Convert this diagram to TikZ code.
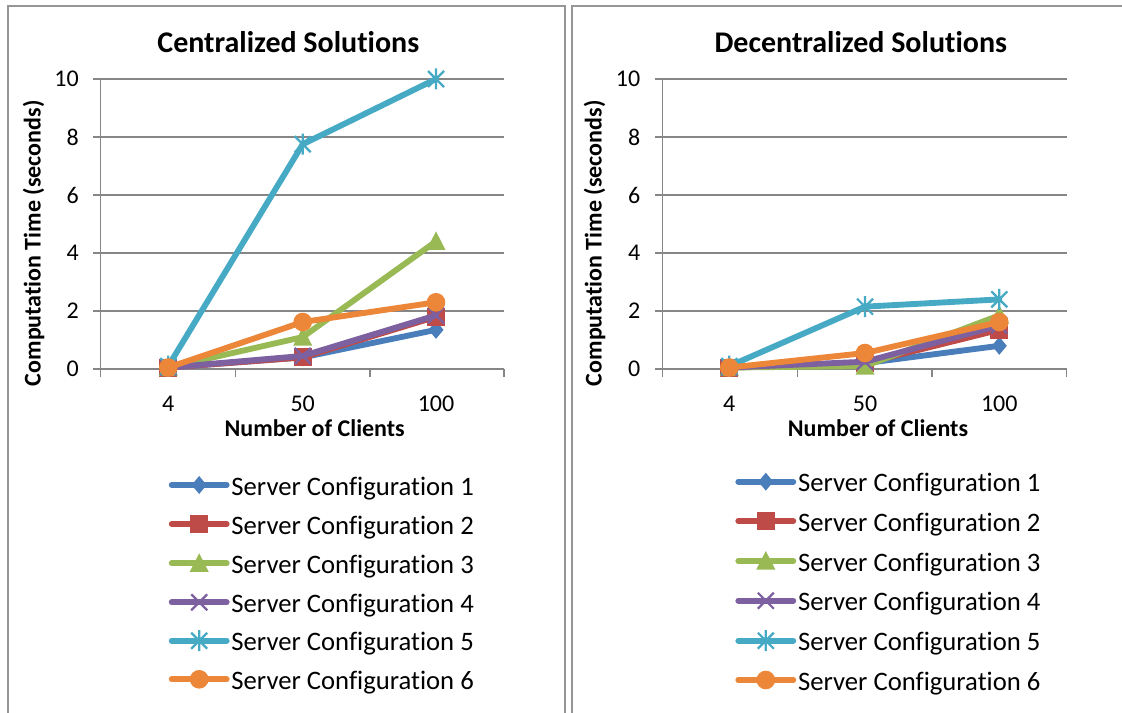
\documentclass[tikz,border=0pt]{standalone}
\usepackage{fontspec}
\setmainfont{Carlito}[Ligatures={NoCommon}]
\definecolor{c1}{RGB}{74,126,187}
\definecolor{c2}{RGB}{190,75,72}
\definecolor{c3}{RGB}{152,185,84}
\definecolor{c4}{RGB}{125,96,160}
\definecolor{c5}{RGB}{70,170,197}
\definecolor{c6}{RGB}{236,135,58}
\definecolor{gridgray}{RGB}{134,134,134}
\definecolor{framegray}{RGB}{150,150,150}
\tikzset{
  every node/.style={inner sep=0pt},
  gridln/.style={draw=gridgray, line width=1.1pt},
  frameln/.style={draw=framegray, line width=1.6pt},
  ser/.style={line width=4.4pt, line join=round, line cap=round},
  ticklbl/.style={font=\fontsize{18}{20}\selectfont},
  axtitle/.style={font=\fontsize{18}{20}\selectfont\bfseries},
  charttitle/.style={font=\fontsize{22.5}{25}\selectfont\bfseries},
  legtxt/.style={font=\fontsize{20}{22}\selectfont, anchor=base west},
  mdia/.pic={\fill[#1] (-7.5,0)--(0,-9)--(7.5,0)--(0,9)--cycle;},
  msq/.pic={\fill[#1] (-9,-9) rectangle (9,9);},
  mtri/.pic={\fill[#1] (0,-10)--(9.5,8.5)--(-9.5,8.5)--cycle;},
  mx/.pic={\draw[#1,line width=1.7pt] (-8,-8)--(8,8) (-8,8)--(8,-8);},
  mast/.pic={\draw[#1,line width=1.7pt] (-8,-8)--(8,8) (-8,8)--(8,-8) (0,-10.5)--(0,10.5);},
  mcirc/.pic={\fill[#1] (0,0) circle[radius=7pt];}
}
% #1 marker, #2 colour, #3-#5 x positions, #6-#8 values
\newcommand\plotser[8]{%
  \draw[ser,#2] (#3,{369-29*#6}) -- (#4,{369-29*#7}) -- (#5,{369-29*#8});
  \pic at (#3,{369-29*#6}) {#1=#2};
  \pic at (#4,{369-29*#7}) {#1=#2};
  \pic at (#5,{369-29*#8}) {#1=#2};
}
\newcommand\serL[5]{\plotser{#1}{#2}{168.3}{302.7}{436}{#3}{#4}{#5}}
\newcommand\serR[5]{\plotser{#1}{#2}{729.3}{865}{999.3}{#3}{#4}{#5}}
% #1 marker, #2 colour, #3 x0, #4 y, #5 node name, #6 text
\newcommand\legrow[6]{%
  \draw[ser,#2] (#3,#4) -- ({#3+55},#4);
  \pic at ({#3+27.5},#4) {#1=#2};
  \node[legtxt] (#5) at ({#3+59.5},{#4+10}) {#6};
}
\begin{document}
\begin{tikzpicture}[x=0.75pt,y=-0.75pt]
\useasboundingbox (0,0) rectangle (1122,713);
% frames
\draw[frameln] (8,714) -- (8,6) -- (565,6) -- (565,714);
\draw[frameln] (572,714) -- (572,6) -- (1123,6);

% ---------- left chart ----------
\node[charttitle, anchor=base] (titleL) at (288.3,52.7) {Centralized Solutions};
\foreach \v in {0,2,...,10} {
  \draw[gridln] (93,{369-29*\v}) -- (504,{369-29*\v});
  \node[ticklbl, anchor=east] (ylL\v) at (79,{369-29*\v}) {\v};
}
\draw[gridln] (100.7,79) -- (100.7,377);
\foreach \xx in {235.3,370,504} \draw[gridln] (\xx,369) -- (\xx,377);
\node[ticklbl, anchor=base] (xlL1) at (168.3,411.7) {4};
\node[ticklbl, anchor=base] (xlL2) at (302.7,411.7) {50};
\node[ticklbl, anchor=base] (xlL3) at (436,411.7) {100};
\node[axtitle, anchor=base] (xtL) at (314.7,436.7) {Number of Clients};
\node[axtitle, anchor=base, rotate=90] (ytL) at (40.7,243.3) {Computation Time (seconds)};

\serL{mdia}{c1}{0.05}{0.4}{1.35}
\serL{msq}{c2}{0.05}{0.4}{1.8}
\serL{mtri}{c3}{0.05}{1.1}{4.4}
\serL{mx}{c4}{0.05}{0.45}{1.85}
\serL{mast}{c5}{0.1}{7.75}{10}
\serL{mcirc}{c6}{0.05}{1.62}{2.3}

\legrow{mdia}{c1}{171.7}{485}{lgL1}{Server Configuration 1}
\legrow{msq}{c2}{171.7}{524}{lgL2}{Server Configuration 2}
\legrow{mtri}{c3}{171.7}{563.3}{lgL3}{Server Configuration 3}
\legrow{mx}{c4}{171.7}{602.3}{lgL4}{Server Configuration 4}
\legrow{mast}{c5}{171.7}{640.7}{lgL5}{Server Configuration 5}
\legrow{mcirc}{c6}{171.7}{679.3}{lgL6}{Server Configuration 6}

% ---------- right chart ----------
\node[charttitle, anchor=base] (titleR) at (860.8,52.7) {Decentralized Solutions};
\foreach \v in {0,2,...,10} {
  \draw[gridln] (655,{369-29*\v}) -- (1066.7,{369-29*\v});
  \node[ticklbl, anchor=east] (ylR\v) at (640.5,{369-29*\v}) {\v};
}
\draw[gridln] (662.3,79) -- (662.3,377);
\foreach \xx in {797.3,932,1066.7} \draw[gridln] (\xx,369) -- (\xx,377);
\node[ticklbl, anchor=base] (xlR1) at (729.3,411.7) {4};
\node[ticklbl, anchor=base] (xlR2) at (865,411.7) {50};
\node[ticklbl, anchor=base] (xlR3) at (999.3,411.7) {100};
\node[axtitle, anchor=base] (xtR) at (878,436.7) {Number of Clients};
\node[axtitle, anchor=base, rotate=90] (ytR) at (601.5,243.3) {Computation Time (seconds)};

\serR{mdia}{c1}{0.05}{0.2}{0.8}
\serR{msq}{c2}{0.05}{0.2}{1.35}
\serR{mtri}{c3}{0.05}{0.1}{1.85}
\serR{mx}{c4}{0.05}{0.25}{1.5}
\serR{mast}{c5}{0.1}{2.15}{2.4}
\serR{mcirc}{c6}{0.05}{0.55}{1.62}

\legrow{mdia}{c1}{738.3}{481.7}{lgR1}{Server Configuration 1}
\legrow{msq}{c2}{738.3}{521}{lgR2}{Server Configuration 2}
\legrow{mtri}{c3}{738.3}{561}{lgR3}{Server Configuration 3}
\legrow{mx}{c4}{738.3}{600.7}{lgR4}{Server Configuration 4}
\legrow{mast}{c5}{738.3}{640.7}{lgR5}{Server Configuration 5}
\legrow{mcirc}{c6}{738.3}{680}{lgR6}{Server Configuration 6}
\end{tikzpicture}
\end{document}
